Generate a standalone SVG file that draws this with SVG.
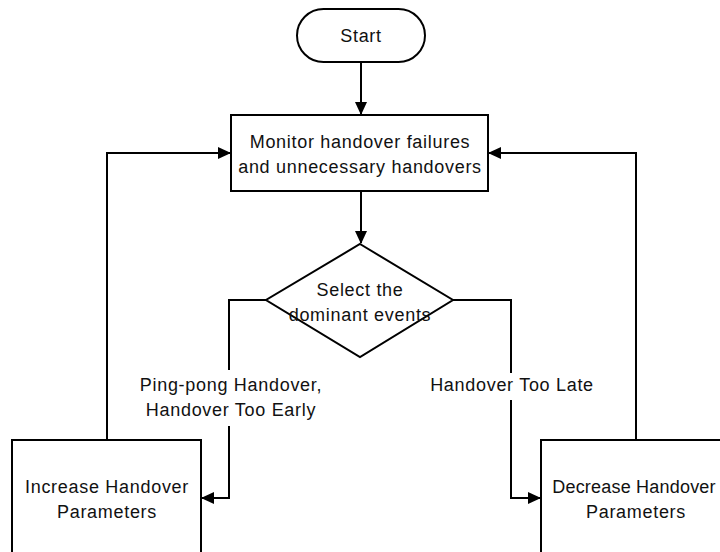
<svg xmlns="http://www.w3.org/2000/svg" width="720" height="552" viewBox="0 0 720 552">
  <defs>
    <marker id="arrow" markerWidth="13" markerHeight="12" refX="12" refY="6" orient="auto" markerUnits="userSpaceOnUse">
      <path d="M0,0 L13,6 L0,12 z" fill="#000"/>
    </marker>
    <style>
      .shape { fill: #fff; stroke: #000; stroke-width: 2; }
      .conn { fill: none; stroke: #000; stroke-width: 2; }
      .arr { marker-end: url(#arrow); }
      text { font-family: "Liberation Sans", Arial, sans-serif; font-size: 18px; letter-spacing: 0.7px; fill: #111; text-anchor: middle; }
      .tight { letter-spacing: 0.2px; }
      .bg { fill: #fff; stroke: none; }
    </style>
  </defs>
  <rect width="720" height="552" fill="#fff"/>

  <g id="connectors">
    <path class="conn arr" d="M361,62 L361,114"/>
    <path class="conn arr" d="M361,191 L361,243"/>
    <path class="conn arr" d="M266,300 L229,300 L229,498 L202,498"/>
    <path class="conn arr" d="M453,300 L511,300 L511,498 L540,498"/>
    <path class="conn arr" d="M107,440 L107,153 L230,153"/>
    <path class="conn arr" d="M636,440 L636,153 L489,153"/>
  </g>

  <g id="start">
    <rect class="shape" x="297" y="9" width="128" height="53" rx="26.5" ry="26.5"/>
    <text x="361" y="42">Start</text>
  </g>

  <g id="monitor">
    <rect class="shape" x="231" y="115" width="257" height="76"/>
    <text x="360" y="148">Monitor handover failures</text>
    <text x="360" y="173">and unnecessary handovers</text>
  </g>

  <g id="decision">
    <polygon class="shape" points="360,244 453,300 360,357 266,300"/>
    <text x="360" y="296">Select the</text>
    <text x="360" y="321">dominant events</text>
  </g>

  <g id="label-left">
    <rect class="bg" x="140" y="370" width="180" height="56"/>
    <text x="231" y="391">Ping-pong Handover,</text>
    <text x="231" y="416">Handover Too Early</text>
  </g>

  <g id="label-right">
    <rect class="bg" x="428" y="373" width="166" height="27"/>
    <text x="512" y="391">Handover Too Late</text>
  </g>

  <g id="increase">
    <rect class="shape" x="12" y="440" width="189" height="130"/>
    <text x="107" y="493">Increase Handover</text>
    <text x="107" y="518">Parameters</text>
  </g>

  <g id="decrease">
    <rect class="shape" x="541" y="440" width="200" height="130"/>
    <text class="tight" x="634" y="493">Decrease Handover</text>
    <text x="636" y="518">Parameters</text>
  </g>
</svg>
